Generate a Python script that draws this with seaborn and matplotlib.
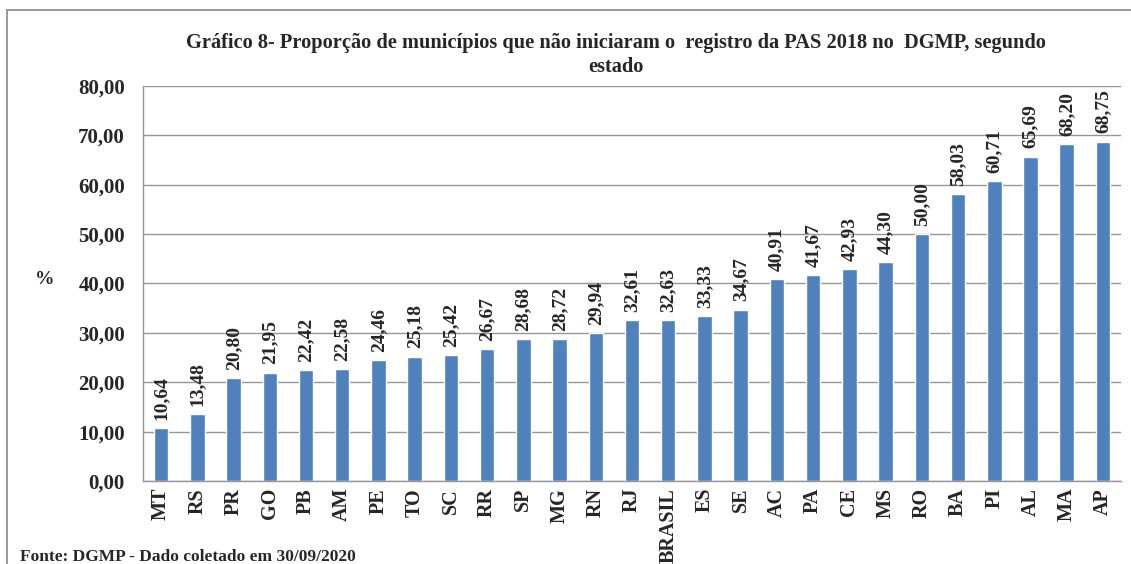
import numpy as np
import pandas as pd
import matplotlib
matplotlib.use("Agg")
import matplotlib.pyplot as plt
import seaborn as sns
from matplotlib.patches import Rectangle
from matplotlib.ticker import FixedLocator, FuncFormatter

estados = ["MT", "RS", "PR", "GO", "PB", "AM", "PE", "TO", "SC", "RR", "SP", "MG",
           "RN", "RJ", "BRASIL", "ES", "SE", "AC", "PA", "CE", "MS", "RO", "BA",
           "PI", "AL", "MA", "AP"]
proporcao = [10.64, 13.48, 20.80, 21.95, 22.42, 22.58, 24.46, 25.18, 25.42, 26.67,
             28.68, 28.72, 29.94, 32.61, 32.63, 33.33, 34.67, 40.91, 41.67, 42.93,
             44.30, 50.00, 58.03, 60.71, 65.69, 68.20, 68.75]
y_ticks = [0, 10, 20, 30, 40, 50, 60, 70, 80]

titulo = "Gráfico 8- Proporção de municípios que não iniciaram o  registro da PAS 2018 no  DGMP, segundo\nestado"
fonte = "Fonte: DGMP - Dado coletado em 30/09/2020"

sns.set_style("white")
plt.rcParams['font.family'] = ['Liberation Serif', 'DejaVu Serif']
plt.rcParams['font.weight'] = 'bold'

df = pd.DataFrame({"estado": estados, "valor": proporcao})

def br(v, _=None):
    return f"{v:.2f}".replace(".", ",")

fig = plt.figure(figsize=(11.31, 5.64), dpi=100)
ax = fig.add_axes([0.1264, 0.1472, 0.8648, 0.7003])

sns.barplot(data=df, x="estado", y="valor", color="#4F81BD", saturation=1,
            width=0.4, ax=ax)

ax.set_ylim(0, 80)
ax.set_xlim(-0.5, len(estados) - 0.5)
ax.yaxis.set_major_locator(FixedLocator(y_ticks))
ax.yaxis.set_major_formatter(FuncFormatter(br))
ax.grid(axis="y", color="#969696", linewidth=1)
ax.set_axisbelow(True)

for s in ["top", "right"]:
    ax.spines[s].set_visible(False)
for s in ["left", "bottom"]:
    ax.spines[s].set_color("#969696")
    ax.spines[s].set_linewidth(1)

ax.tick_params(axis="y", length=6, color="#969696", labelsize=15, pad=7)
ax.tick_params(axis="x", which="major", length=0, labelsize=14.5, pad=5,
               labelrotation=90)
ax.xaxis.set_minor_locator(FixedLocator(np.arange(-0.5, len(estados), 1.0)))
ax.tick_params(axis="x", which="minor", length=6, color="#969696")
for lbl in ax.get_xticklabels() + ax.get_yticklabels():
    lbl.set_fontweight("bold")

ax.bar_label(ax.containers[0], labels=[br(v) for v in proporcao], rotation=90,
             padding=6, fontsize=14, fontweight="bold")

ax.set_xlabel("")
ax.set_ylabel("")
fig.text(0.040, 1 - 279 / 564, "%", fontsize=14, fontweight="bold",
         ha="center", va="center")

fig.text(0.545, 1 - 55 / 564, titulo, fontsize=14.7, fontweight="bold",
         ha="center", va="center", linespacing=1.3)

fig.text(0.018, 1 - 561 / 564, fonte, fontsize=12.5, fontweight="bold",
         ha="left", va="baseline")

fig.patches.append(Rectangle((7 / 1131, -0.1), 1.2, 1.1 - 10 / 564,
                             transform=fig.transFigure, fill=False,
                             edgecolor="#888888", linewidth=1.2))

fig.savefig("out.png", dpi=100)
plt.close(fig)
